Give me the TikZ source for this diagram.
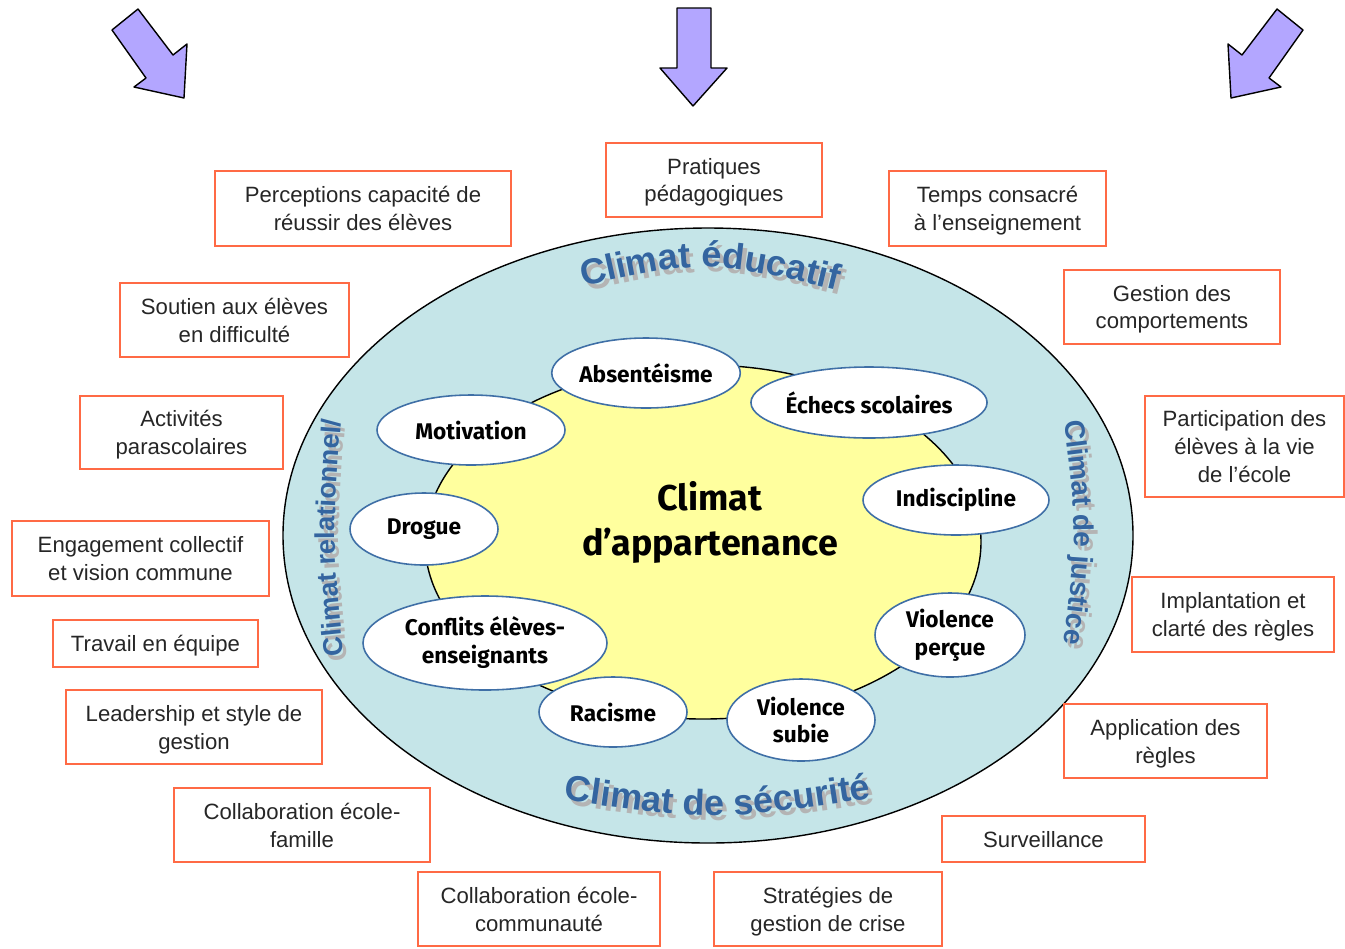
\documentclass[tikz,border=0pt]{standalone}
\usepackage{fontspec}
\setmainfont{Liberation Sans}
\newfontfamily\boxfont{Liberation Sans}
\newfontfamily\ovalfont{Fira Sans}
\newfontfamily\climfont{Liberation Sans}
\usetikzlibrary{shapes.geometric,decorations.text}
\definecolor{seablue}{HTML}{C5E5E8}
\definecolor{paleyellow}{HTML}{FFFF9E}
\definecolor{ovalblue}{HTML}{3F6FA6}
\definecolor{boxred}{HTML}{FF6A45}
\definecolor{arrowlilac}{HTML}{B3A6FF}
\definecolor{titleblue}{HTML}{3465A0}
\definecolor{shadowgrey}{HTML}{B4B4B4}
\tikzset{
  sz/.style 2 args={minimum width=#1*0.02cm,minimum height=#2*0.02cm},
  bx/.style={draw=boxred,line width=0.9pt,fill=white,inner sep=0pt,align=center,text=black!85,
    text depth=0pt,font=\boxfont\fontsize{12.6}{15.9}\selectfont},
  oval/.style={ellipse,draw=ovalblue,line width=0.9pt,fill=white,inner sep=0pt,align=center,
    font=\ovalfont\bfseries\fontsize{12.9}{15.9}\selectfont},
  bigarrow/.style={draw=black,line width=0.8pt,fill=arrowlilac,line join=round},
  climtext/.style 2 args={decorate,decoration={text along path,text align=center,text color=#1,
    text={|\climfont\bfseries\fontsize{#2}{24}\selectfont|Climat éducatif}}},
}
\begin{document}
\begin{tikzpicture}[x=0.02cm,y=-0.02cm]
\useasboundingbox (0,0) rectangle (1345,948);
\draw[bigarrow] (112,30)--(138,9)--(173,55)--(187,44)--(184,98)--(134,87)--(146,78)--cycle;
\draw[bigarrow] (677,8)--(711,8)--(711,68)--(727,68)--(693,106)--(660,68)--(677,68)--cycle;
\draw[bigarrow] (1303,30)--(1277,9)--(1242,55)--(1228,44)--(1231,98)--(1281,87)--(1269,78)--cycle;
\draw[line width=0.8pt,fill=seablue] (708,535.5) ellipse[x radius=425,y radius=307.5];
\draw[line width=0.8pt,fill=paleyellow] (703,542) ellipse[x radius=278,y radius=177];
\path[climtext={shadowgrey}{20.5},shift={(4,5)}] (560,292) .. controls (705,258) .. (860,296);
\path[climtext={titleblue}{20.5}] (560,292) .. controls (705,258) .. (860,296);
\path[shift={(4,5)},decorate,decoration={text along path,text align=center,text color=shadowgrey,
  text={|\climfont\bfseries\fontsize{20.5}{24}\selectfont|Climat de sécurité}}] (550,798) .. controls (715,822) .. (885,796);
\path[decorate,decoration={text along path,text align=center,text color=titleblue,
  text={|\climfont\bfseries\fontsize{20.5}{24}\selectfont|Climat de sécurité}}] (550,798) .. controls (715,822) .. (885,796);
\path[shift={(4,5)},decorate,decoration={text along path,text align=center,text color=shadowgrey,
  text={|\climfont\bfseries\fontsize{15.5}{18}\selectfont|Climat relationnel/}}] (345,665) .. controls (332,540) .. (342,410);
\path[decorate,decoration={text along path,text align=center,text color=titleblue,
  text={|\climfont\bfseries\fontsize{15.5}{18}\selectfont|Climat relationnel/}}] (345,665) .. controls (332,540) .. (342,410);
\path[shift={(4,5)},decorate,decoration={text along path,text align=center,text color=shadowgrey,
  text={|\climfont\bfseries\fontsize{16}{18}\selectfont|Climat de justice}}] (1062,405) .. controls (1078,530) .. (1062,660);
\path[decorate,decoration={text along path,text align=center,text color=titleblue,
  text={|\climfont\bfseries\fontsize{16}{18}\selectfont|Climat de justice}}] (1062,405) .. controls (1078,530) .. (1062,660);
\node[font=\ovalfont\bfseries\fontsize{20.4}{25.6}\selectfont,align=center] (appart) at (710,522) {Climat\\d’appartenance};
\node[oval,sz={188}{70}] (absent) at (646,373) {Absentéisme};
\node[oval,sz={232}{71}] (echecs) at (869,402.5) {Échecs scolaires};
\node[oval,sz={188}{70}] (motiv) at (471,430) {Motivation};
\node[oval,sz={186}{70}] (indisc) at (956,500) {Indiscipline};
\node[oval,sz={148}{72}] (drogue) at (424,529) {Drogue};
\node[oval,sz={244}{94}] (conflits) at (485,643) {Conflits élèves-\\enseignants};
\node[oval,sz={150}{84}] (violp) at (950,635) {Violence\\perçue};
\node[oval,sz={148}{70}] (racisme) at (613,712) {Racisme};
\node[oval,sz={148}{82}] (violsub) at (801,720) {Violence\\subie};
\node[bx,sz={296}{75}] (percep) at (363,208.5) {Perceptions capacité de\\réussir des élèves};
\node[bx,sz={216}{74}] (pratiq) at (714,180) {Pratiques\\pédagogiques};
\node[bx,sz={217}{75}] (temps) at (997.5,208.5) {Temps consacré\\à l’enseignement};
\node[bx,sz={229}{74}] (soutien) at (234.5,320) {Soutien aux élèves\\en difficulté};
\node[bx,sz={216}{74}] (gestcomp) at (1172,307) {Gestion des\\comportements};
\node[bx,sz={203}{73}] (activ) at (181.5,432.5) {Activités\\parascolaires};
\node[bx,sz={199}{101}] (partic) at (1244.5,446.5) {Participation des\\élèves à la vie\\de l’école};
\node[bx,sz={257}{75}] (engag) at (140.5,558.5) {Engagement collectif\\et vision commune};
\node[bx,sz={205}{47}] (travail) at (155.5,643.5) {Travail en équipe};
\node[bx,sz={202}{75}] (implant) at (1233,614.5) {Implantation et\\clarté des règles};
\node[bx,sz={256}{74}] (leader) at (194,727) {Leadership et style de\\gestion};
\node[bx,sz={203}{74}] (applic) at (1165.5,741) {Application des\\règles};
\node[bx,sz={256}{74}] (collfam) at (302,825) {Collaboration école-\\famille};
\node[bx,sz={203}{46}] (surv) at (1043.5,839) {Surveillance};
\node[bx,sz={242}{74}] (collcom) at (539,909) {Collaboration école-\\communauté};
\node[bx,sz={228}{74}] (strat) at (828,909) {Stratégies de\\gestion de crise};
\end{tikzpicture}
\end{document}
